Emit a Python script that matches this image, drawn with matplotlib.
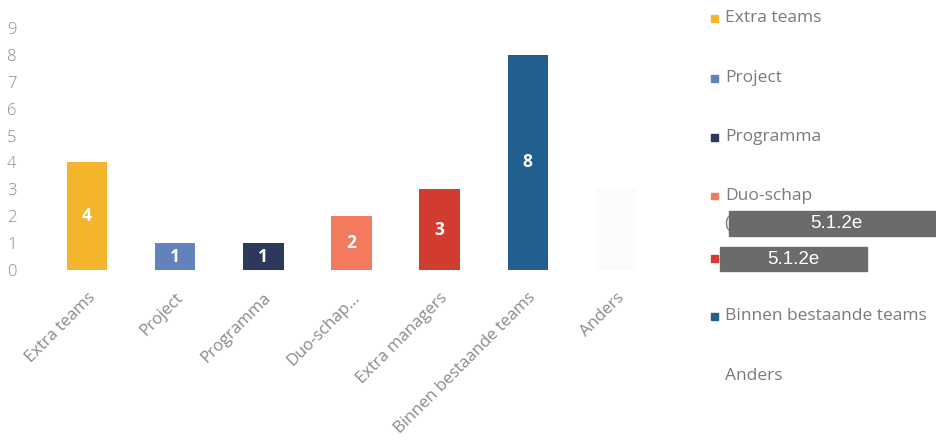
import matplotlib
matplotlib.use('Agg')
import matplotlib.pyplot as plt
from matplotlib.patches import Rectangle

CATEGORIES = ["Extra teams", "Project", "Programma", "Duo-schap...",
              "Extra managers", "Binnen bestaande teams", "Anders"]
VALUES = [4, 1, 1, 2, 3, 8, 3]
COLORS = ["#F4B52C", "#6282BB", "#2C395D", "#F27A5E",
          "#D23B2F", "#21608E", "#FBFBFB"]
LEGEND_LABELS = ["Extra teams", "Project", "Programma", "Duo-schap",
                 "", "Binnen bestaande teams", "Anders"]
REDACTED = "5.1.2e"

GRAY = "#8a8a8a"
FONT = "Open Sans"


def main():
    fig = plt.figure(figsize=(9.37, 4.41), dpi=100)
    W, H = 937, 441
    ax = fig.add_axes([43 / W, 1 - 270 / H, (660 - 43) / W, (270 - 28) / H])

    x = range(len(CATEGORIES))
    bars = ax.bar(x, VALUES, width=0.46, color=COLORS)
    # the last bar is nearly white in the scan, its label is not visible
    labels = [str(v) if i < len(VALUES) - 1 else "" for i, v in enumerate(VALUES)]
    ax.bar_label(bars, labels=labels, label_type="center", color="white",
                 fontsize=12.5, fontweight="bold", family=FONT)

    ax.set_xlim(-0.5, len(CATEGORIES) - 0.5)
    ax.set_ylim(0, 9)
    ax.set_yticks(range(10))
    ax.set_yticklabels([str(i) for i in range(10)], family=FONT,
                       fontsize=12, color=GRAY, fontweight="light")
    ax.set_xticks(list(x))
    ax.set_xticklabels(CATEGORIES, rotation=45, ha="right",
                       rotation_mode="anchor", family=FONT, fontsize=12,
                       color=GRAY)
    ax.tick_params(axis="y", length=0, pad=19)
    ax.tick_params(axis="x", length=0, pad=14)
    for s in ax.spines.values():
        s.set_visible(False)

    # legend, drawn by hand to follow the scanned layout
    rows = [18, 78, 137, 196, 258, 316, 376]
    for lab, col, y in zip(LEGEND_LABELS, COLORS, rows):
        if lab != "Anders":
            fig.patches.append(Rectangle((711 / W, 1 - (y + 3.5) / H), 7 / W, 7 / H,
                                         transform=fig.transFigure, color=col))
        if lab:
            fig.text(725 / W, 1 - y / H, lab, family=FONT, fontsize=12.5,
                     color="#7a7a7a", va="center", ha="left")
    fig.text(724 / W, 1 - 223 / H, "(", family=FONT, fontsize=12.5,
             color="#7a7a7a", va="center", ha="left")

    # redaction boxes
    for (x0, x1, y0, y1, tx) in [(729, 937, 211, 236, 836), (720, 867, 247, 271, 793)]:
        fig.patches.append(Rectangle((x0 / W, 1 - y1 / H), (x1 - x0) / W,
                                     (y1 - y0) / H, transform=fig.transFigure,
                                     color="#6b6b6b"))
        fig.text(tx / W, 1 - (y0 + y1) / 2 / H, REDACTED,
                 family="Liberation Sans", fontsize=13.5, color="white",
                 va="center", ha="center")

    fig.savefig("out.png", dpi=100)


if __name__ == "__main__":
    main()
